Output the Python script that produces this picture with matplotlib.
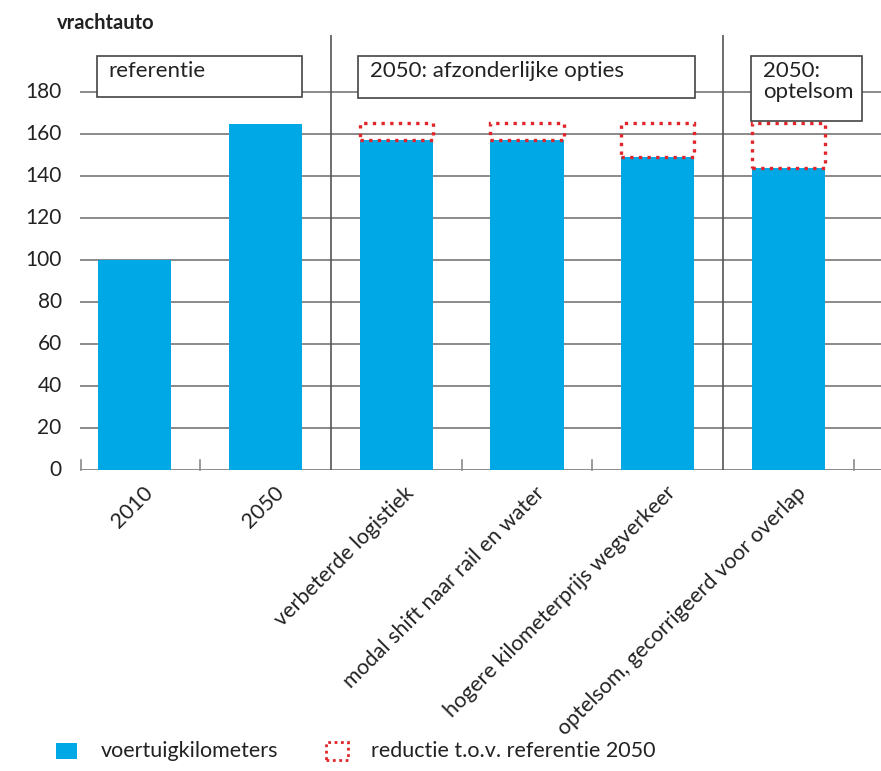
import numpy as np
import matplotlib
matplotlib.use("Agg")
import matplotlib.pyplot as plt
from matplotlib.patches import Rectangle

plt.rcParams['font.family'] = ['Lato', 'DejaVu Sans']

# data
categories = ["2010", "2050", "verbeterde logistiek", "modal shift naar rail en water",
              "hogere kilometerprijs wegverkeer", "optelsom, gecorrigeerd voor overlap"]
voertuigkm = [100, 165, 157, 157, 149, 144]
referentie_2050 = 165
has_reduction = [False, False, True, True, True, True]
yticks = [0, 20, 40, 60, 80, 100, 120, 140, 160, 180]
groups = ["referentie", "2050: afzonderlijke opties", "2050:\noptelsom"]

BLUE = "#00a8e6"
RED = "#e0262b"
GRID = "#8a8a8a"
TXT = "#222222"

W, H = 881, 771
fig = plt.figure(figsize=(W / 100, H / 100), dpi=100)

# axes in pixel layout: x 80..881, y 35..470
ax = fig.add_axes([80 / W, (H - 470) / H, 801 / W, 435 / H])
step = 130.7
xmin = -0.42
ax.set_xlim(xmin, xmin + 801 / step)
ax.set_ylim(0, 435 / 2.1)

x = np.arange(len(categories))
bw = 0.56

# gridlines
for yv in yticks:
    ax.axhline(yv, color=GRID, lw=1.4, zorder=1)

ax.bar(x, voertuigkm, width=bw, color=BLUE, zorder=3)

# reductie t.o.v. referentie
for xi, v, r in zip(x, voertuigkm, has_reduction):
    if r:
        ax.add_patch(Rectangle((xi - bw / 2, v), bw, referentie_2050 - v, fill=False,
                               edgecolor=RED, lw=2.4, linestyle=(0, (1, 1.6)), zorder=4))

# scheidingslijnen en kleine streepjes
for sx in [1.5, 4.5]:
    ax.axvline(sx, color="#555555", lw=1.2, zorder=2)
for tx in [xmin + 0.005, 0.5, 2.5, 3.5, 5.5]:
    ax.plot([tx, tx], [0, 5], color=GRID, lw=1.2, zorder=2, clip_on=False)

# kopjes (x0, x1, y0, y1 in data units)
box_pos = [(-0.29, 1.278, 177.6, 197.1), (1.706, 4.285, 177.1, 197.1), (4.713, 5.562, 166.2, 197.1)]
for (x0, x1, y0, y1), lab in zip(box_pos, groups):
    ax.add_patch(Rectangle((x0, y0), x1 - x0, y1 - y0, facecolor="white",
                           edgecolor="#444444", lw=1.2, zorder=5))
    ax.text(x0 + 0.09, y1 - 2.4, lab, ha="left", va="top", fontsize=16,
            color=TXT, zorder=6, linespacing=1.05)

for s in ax.spines.values():
    s.set_visible(False)
ax.set_xticks([])
ax.set_yticks([])

# y labels
for yv in yticks:
    ax.text(xmin - 0.14, yv, str(yv), ha="right", va="center", fontsize=15,
            color=TXT, clip_on=False)

# x labels
for xi, lab in zip(x, categories):
    ax.text(xi + 0.06, -6, lab, rotation=45, ha="right", va="top",
            rotation_mode="anchor", fontsize=15.5, color=TXT, clip_on=False)

fig.text(57 / W, 1 - 23 / H, "vrachtauto", fontsize=14.5, fontweight="bold",
         ha="left", va="center", color=TXT)

# legenda
fig.patches.append(Rectangle((56 / W, 1 - 759 / H), 21 / W, 16 / H, transform=fig.transFigure,
                             facecolor=BLUE, edgecolor="none", figure=fig))
fig.text(101 / W, 1 - 751 / H, "voertuigkilometers", fontsize=15.5, ha="left", va="center",
         color=TXT)
fig.patches.append(Rectangle((326 / W, 1 - 760 / H), 22 / W, 18 / H, transform=fig.transFigure,
                             fill=False, edgecolor=RED, lw=2, linestyle=(0, (1, 1.3)), figure=fig))
fig.text(371 / W, 1 - 751 / H, "reductie t.o.v. referentie 2050", fontsize=15.5, ha="left",
         va="center", color=TXT)

fig.savefig("out.png", dpi=100)
